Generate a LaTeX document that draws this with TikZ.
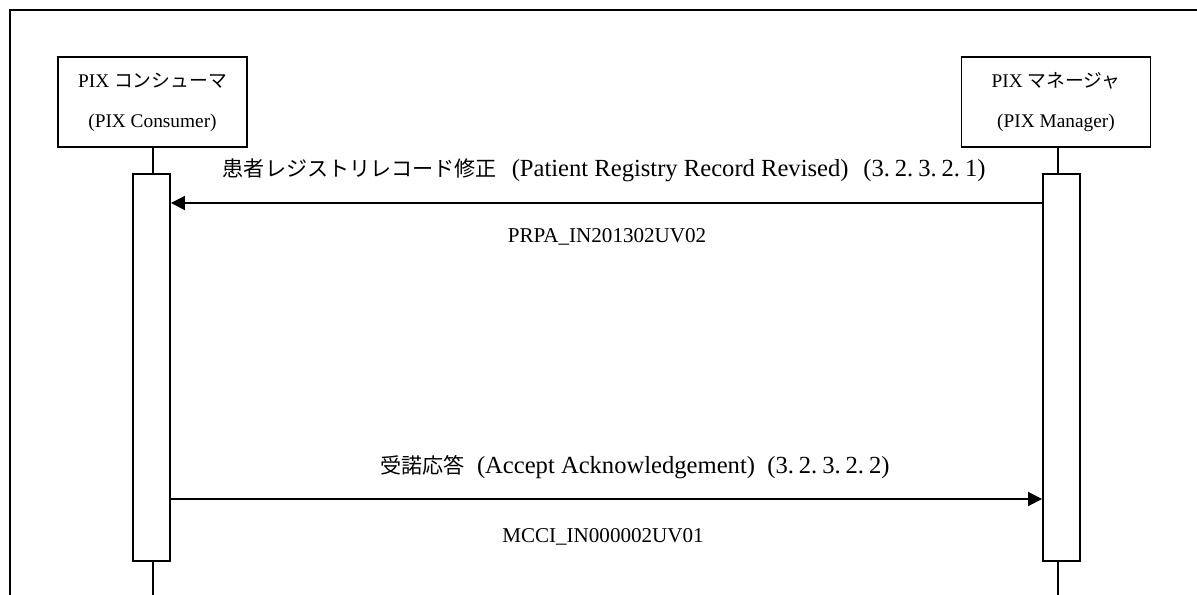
\documentclass[tikz,border=0pt]{standalone}
\usepackage{fontspec}
\setmainfont{Liberation Serif}
\newfontfamily\jpfont{Noto Sans CJK JP}
\usetikzlibrary{arrows.meta, positioning, calc}

\newcommand{\jpbox}[1]{{\jpfont\fontsize{10.7}{22.7}\selectfont #1}}
\newcommand{\jplbl}[1]{{\jpfont\fontsize{12}{16}\selectfont #1}}
\newcommand{\secno}[5]{(#1.\hspace{0.2em}#2.\hspace{0.2em}#3.\hspace{0.2em}#4.\hspace{0.2em}#5)}

\begin{document}
\begin{tikzpicture}[
    >={Triangle[length=0.28cm, width=0.28cm]},
    actor/.style={draw, line width=1.1pt, minimum width=3.78cm, minimum height=1.8cm,
                  align=center, font=\fontsize{11}{22.7}\selectfont, inner sep=0pt},
    activ/.style={draw, line width=1.1pt, fill=white, minimum width=0.74cm,
                  minimum height=7.74cm, inner sep=0pt},
    life/.style={line width=0.9pt},
    msg/.style={->, line width=1.1pt},
    msglbl/.style={font=\fontsize{14}{16}\selectfont, inner sep=0pt, anchor=west},
    typlbl/.style={font=\fontsize{12}{14}\selectfont, inner sep=0pt}
  ]
  \useasboundingbox (0,0) rectangle (23.94,-11.9);

  % frame
  \draw[line width=1.1pt] (23.94,-0.2) -- (0.2,-0.2) -- (0.2,-11.9);

  % Consumer
  \node[actor] (cons) at (3.05, -2.04) {PIX \jpbox{コンシューマ}\\(PIX Consumer)};
  \node[activ, anchor=north] (acons) at (3.03, -3.46) {};
  \coordinate (cend) at (3.06, -11.9);
  \draw[life] (cons.south -| cend) -- (cend |- acons.north);
  \draw[life] (cend |- acons.south) -- (cend);

  % Manager
  \node[actor] (mgr) at (21.12, -2.04) {PIX \jpbox{マネージャ}\\(PIX Manager)};
  \node[activ, anchor=north] (amgr) at (21.23, -3.46) {};
  \coordinate (mend) at (21.16, -11.9);
  \draw[life] (mgr.south -| mend) -- (mend |- amgr.north);
  \draw[life] (mend |- amgr.south) -- (mend);

  % Message 1: record revised
  \coordinate (m1s) at (amgr.west |- 0,-4.06);
  \coordinate (m1e) at (acons.east |- 0,-4.06);
  \draw[msg] (m1s) -- (m1e);
  \node[msglbl] (lbl1) at (4.45, -3.4) {\jplbl{患者レジストリレコード修正}\hspace{0.6em}(Patient Registry Record Revised)\hspace{0.6em}\secno32321};
  \node[typlbl] (typ1) at (12.14, -4.74) {PRPA\_IN201302UV02};

  % Message 2: accept ack
  \coordinate (m2s) at (acons.east |- 0,-9.98);
  \coordinate (m2e) at (amgr.west |- 0,-9.98);
  \draw[msg] (m2s) -- (m2e);
  \node[msglbl] (lbl2) at (7.6, -9.34) {\jplbl{受諾応答}\hspace{0.5em}(Accept Acknowledgement)\hspace{0.5em}\secno32322};
  \node[typlbl] (typ2) at (12.06, -10.74) {MCCI\_IN000002UV01};
\end{tikzpicture}
\end{document}
